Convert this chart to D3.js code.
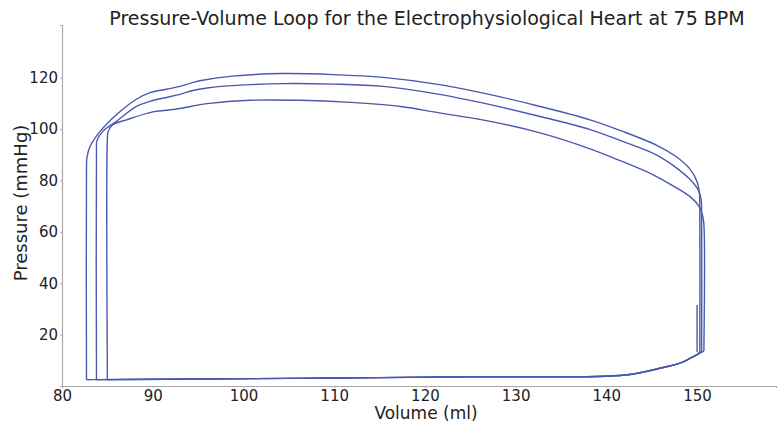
<!DOCTYPE html>
<html>
<head>
<meta charset="utf-8">
<script src="https://cdn.jsdelivr.net/npm/d3@7"></script>
<style>
  body { margin: 0; background: #fff; }
  text { font-family: 'DejaVu Sans', sans-serif; fill: #222; }
</style>
</head>
<body>
<div id="chart"></div>
<script>
// [volume (ml), pressure (mmHg)] pairs, one loop per beat
const startSegment = [[150.0, 31.5], [150.0, 13.2]]

const loopA = [
  [150.3, 13.4], [150.3, 71], [150.25, 75.5], [150.0, 79.5], [149.2, 84.5], [147.6, 89.5],
  [145.6, 93.6], [141.8, 99.1], [138.2, 103.6], [132.7, 108.8], [127.2, 113.4], [121.6, 117.3],
  [115.4, 120.1], [109.9, 121.2], [104.3, 121.6], [98.8, 120.6], [95.5, 119.0], [94.2, 117.9],
  [93.0, 116.6], [91.5, 115.5], [89.7, 114.2], [88.2, 111.6], [86.0, 105.6], [84.2, 99.1],
  [83.1, 93.3], [82.75, 89], [82.7, 85], [82.7, 3.0], [82.7, 2.5], [83.2, 2.5],
  [95, 2.7], [110, 3.1], [125, 3.6], [142.1, 4.3], [146, 7.0], [148.2, 9.0], [149.3, 10.9],
  [150.0, 12.2], [150.3, 13.4]
]

const loopB = [
  [150.5, 13.5], [150.5, 68], [150.45, 72.5], [150.1, 76.5], [149.2, 80.5], [147.5, 85.5],
  [145.6, 89.8], [141.8, 95.2], [138.2, 99.8], [132.7, 104.9], [127.2, 109.5], [121.6, 113.5],
  [115.4, 116.6], [109.9, 117.5], [104.3, 117.7], [98.8, 116.9], [96.0, 116.0], [94.3, 114.9],
  [93.0, 113.5], [91.5, 112.3], [89.7, 110.8], [88.2, 108.8], [86.0, 103.0], [84.5, 99.1],
  [83.85, 95.5], [83.8, 92], [83.8, 3.0], [83.8, 2.5], [84.3, 2.5], [95, 2.7], [110, 3.1],
  [125, 3.6], [142.1, 4.3], [146, 7.0], [148.2, 9.0], [149.3, 10.9], [150.0, 12.2], [150.5, 13.5]
]

const loopC = [
  [150.75, 13.6], [150.75, 63], [150.6, 66.5], [150.2, 70.0], [149.2, 73.8], [147.3, 78.0],
  [145.0, 82.5], [141.8, 87.3], [138.2, 92.3], [132.7, 98.5], [127.2, 103.0], [121.6, 106.3],
  [117.3, 108.8], [111.8, 110.4], [106.2, 111.2], [100.7, 111.2], [96.0, 109.9], [94.3, 108.9],
  [93.0, 108.0], [91.5, 107.3], [90.0, 106.7], [87.1, 103.6], [85.6, 101.7], [85.1, 99.1],
  [85.0, 96], [85.0, 3.0], [85.0, 2.5], [85.5, 2.5], [95, 2.7], [110, 3.1], [125, 3.6],
  [142.1, 4.3], [146, 7.0], [148.2, 9.0], [149.3, 10.9], [150.0, 12.2], [150.75, 13.6]
]

const xTicks = [80, 90, 100, 110, 120, 130, 140, 150]
const yTicks = [20, 40, 60, 80, 100, 120]

const titleText = 'Pressure-Volume Loop for the Electrophysiological Heart at 75 BPM'
const xLabel = 'Volume (ml)'
const yLabel = 'Pressure (mmHg)'

let width = 778
let height = 423
let margins = { top: 25, right: 2, bottom: 37, left: 62 }

function makeSvg(element) {
  return d3.select(element).append('svg')
    .attr('width', width)
    .attr('height', height)
}

function drawAxes(svg, xScale, yScale) {
  let gx = svg.append('g')
    .attr('transform', `translate(0,${height - margins.bottom})`)
    .call(d3.axisBottom(xScale).tickValues(xTicks).tickSize(2).tickPadding(2))
  let gy = svg.append('g')
    .attr('transform', `translate(${margins.left},0)`)
    .call(d3.axisLeft(yScale).tickValues(yTicks).tickSize(2).tickPadding(2))

  for (let g of [gx, gy]) {
    g.selectAll('path.domain').attr('stroke', '#aaa').attr('stroke-width', 1.2)
    g.selectAll('.tick line').attr('stroke', '#aaa')
    g.selectAll('.tick text')
      .style('font-family', "'DejaVu Sans', sans-serif")
      .style('font-size', '15px')
      .attr('fill', '#222')
  }
}

function drawLoops(svg, xScale, yScale) {
  let plotLine = d3.line()
    .x(d => xScale(d[0]))
    .y(d => yScale(d[1]))
    .curve(d3.curveCatmullRom.alpha(0.5))

  for (let loop of [loopA, loopB, loopC, startSegment]) {
    svg.append('path')
      .datum(loop)
      .attr('d', plotLine)
      .attr('fill', 'none')
      .attr('stroke', '#4a58b0')
      .attr('stroke-width', 1.4)
  }
}

function drawTexts(svg) {
  svg.append('text')
    .attr('x', 427)
    .attr('y', 25)
    .attr('text-anchor', 'middle')
    .style('font-size', '19px')
    .text(titleText)

  svg.append('text')
    .attr('x', 426)
    .attr('y', 419)
    .attr('text-anchor', 'middle')
    .style('font-size', '17px')
    .text(xLabel)

  svg.append('text')
    .attr('transform', 'translate(27,203) rotate(-90)')
    .attr('text-anchor', 'middle')
    .style('font-size', '18px')
    .text(yLabel)
}

let xScale = d3.scaleLinear()
  .domain([80, 158.7])
  .range([margins.left, width - margins.right])

let yScale = d3.scaleLinear()
  .domain([0, 140.5])
  .range([height - margins.bottom, margins.top])

let svg = makeSvg(document.getElementById('chart'))
drawAxes(svg, xScale, yScale)
drawLoops(svg, xScale, yScale)
drawTexts(svg)
</script>
</body>
</html>
